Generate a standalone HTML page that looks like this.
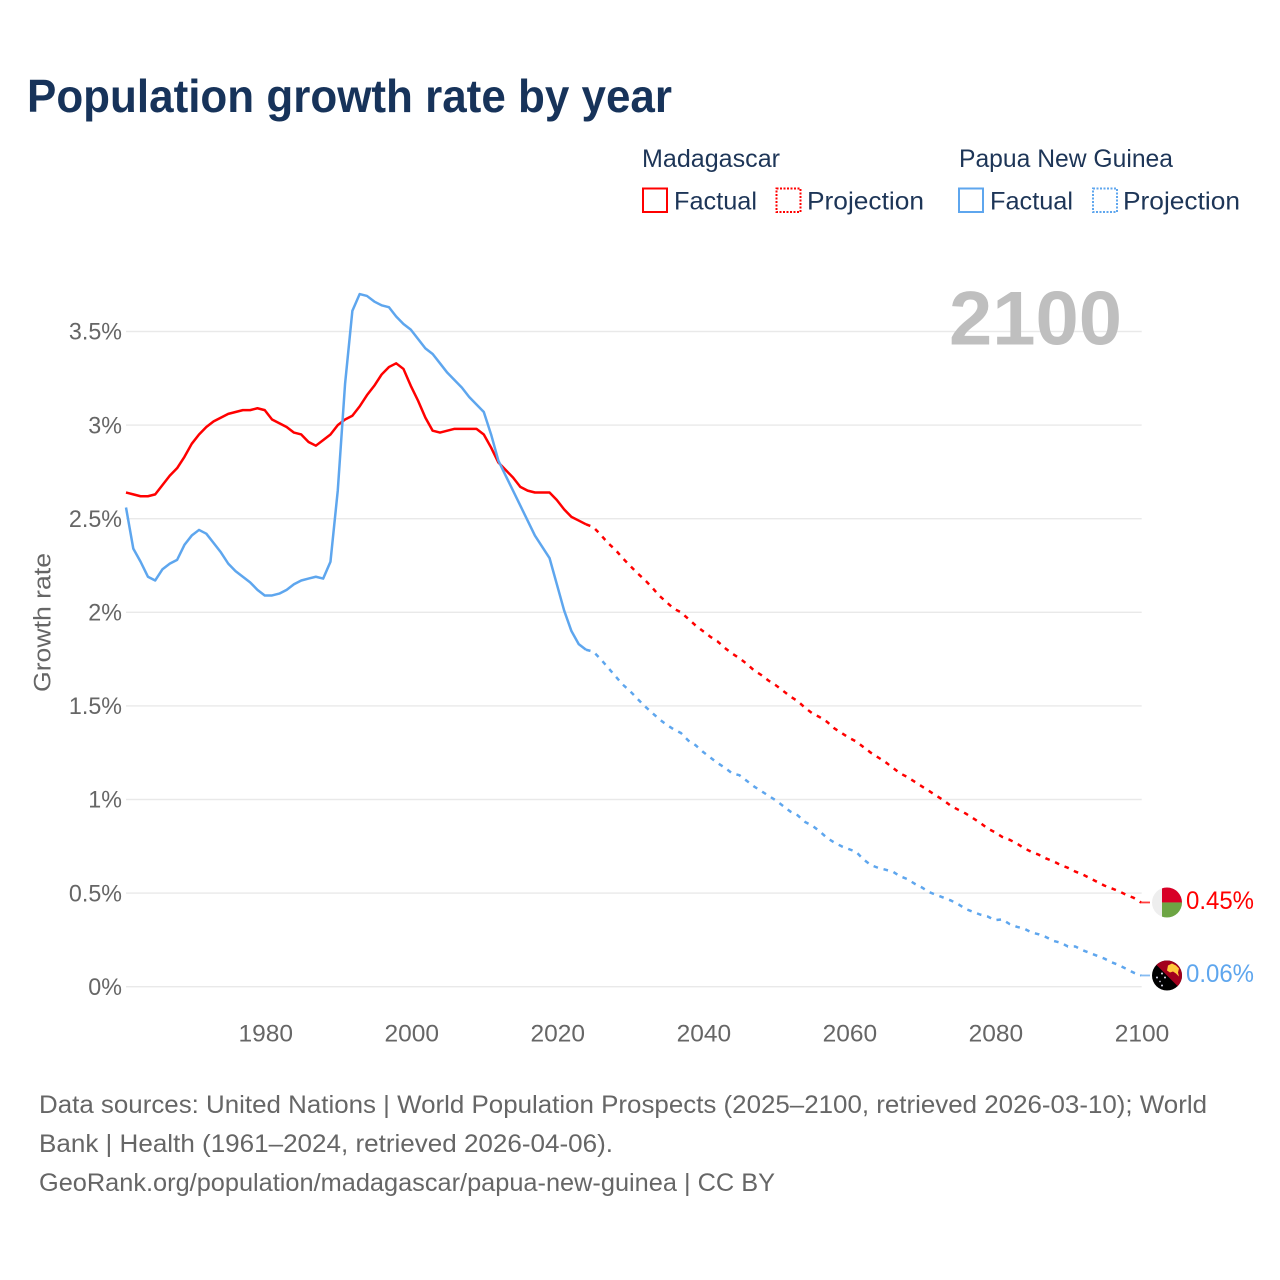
<!DOCTYPE html>
<html lang="en">
<head>
<meta charset="utf-8">
<title>Population growth rate by year</title>
<style>
html,body{margin:0;padding:0;background:#fff;width:1280px;height:1280px;overflow:hidden}
svg{display:block;font-family:"Liberation Sans",sans-serif}
</style>
</head>
<body>
<svg id="chart" xmlns="http://www.w3.org/2000/svg" width="1280" height="1280" viewBox="0 0 1280 1280">
  <rect width="1280" height="1280" fill="#fff"/>
  <text x="27" y="112" font-size="46" font-weight="700" fill="#17335a" textLength="645" lengthAdjust="spacingAndGlyphs">Population growth rate by year</text>

  <g font-size="25" fill="#1d3557">
    <text x="642" y="167" textLength="138" lengthAdjust="spacingAndGlyphs">Madagascar</text>
    <text x="959" y="167" textLength="214" lengthAdjust="spacingAndGlyphs">Papua New Guinea</text>
    <rect x="643" y="188.5" width="24" height="23.5" fill="none" stroke="#ff0000" stroke-width="2"/>
    <text x="674" y="209.5" textLength="83" lengthAdjust="spacingAndGlyphs">Factual</text>
    <rect x="776.5" y="188.5" width="24" height="23.5" fill="none" stroke="#ff0000" stroke-width="2" stroke-dasharray="2 1.5"/>
    <text x="807" y="209.5" textLength="117" lengthAdjust="spacingAndGlyphs">Projection</text>
    <rect x="959" y="188.5" width="24" height="23.5" fill="none" stroke="#5ea6ee" stroke-width="2"/>
    <text x="990" y="209.5" textLength="83" lengthAdjust="spacingAndGlyphs">Factual</text>
    <rect x="1093" y="188.5" width="24" height="23.5" fill="none" stroke="#5ea6ee" stroke-width="2" stroke-dasharray="2 1.5"/>
    <text x="1123" y="209.5" textLength="117" lengthAdjust="spacingAndGlyphs">Projection</text>
  </g>

  <g id="grid"></g>
  <g id="yticks" font-size="24.5" fill="#666"></g>
  <g id="xticks" font-size="24.5" fill="#666"></g>

  <text transform="translate(50.5 622.5) rotate(-90)" text-anchor="middle" font-size="24.5" fill="#666" textLength="139" lengthAdjust="spacingAndGlyphs">Growth rate</text>
  <text x="949" y="344.5" font-size="76" font-weight="700" fill="#bfbfbf" textLength="173" lengthAdjust="spacingAndGlyphs">2100</text>

  <g id="series"></g>

  <defs>
    <clipPath id="flag-clip"><circle cx="0" cy="0" r="15"/></clipPath>
  </defs>
  <g id="flag-mg">
    <g clip-path="url(#flag-clip)">
      <rect x="-15" y="-15" width="30" height="30" fill="#eeeeee"/>
      <rect x="-5" y="-15" width="20" height="15" fill="#d80027"/>
      <rect x="-5" y="0" width="20" height="15" fill="#6da544"/>
    </g>
  </g>
  <g id="flag-pg">
    <g clip-path="url(#flag-clip)">
      <rect x="-15" y="-15" width="30" height="30" fill="#000"/>
      <polygon points="-15,-15 15,-15 15,15" fill="#a2001d"/>
      <polygon points="0,-5 1,-10 5,-12 9,-10 12,-7 11,-3 12,1 9,-2 6,-4 3,-3" fill="#ffc93c"/>
      <circle cx="-5" cy="-2" r="1" fill="#dde"/>
      <circle cx="-10" cy="2" r="1" fill="#dde"/>
      <circle cx="-2" cy="2" r="1" fill="#dde"/>
      <circle cx="-7" cy="6" r="0.8" fill="#dde"/>
      <circle cx="-5" cy="10" r="1" fill="#dde"/>
    </g>
  </g>
  <text id="end-mg" x="1186" font-size="25" fill="#ff0000" textLength="68" lengthAdjust="spacingAndGlyphs"></text>
  <text id="end-pg" x="1186" font-size="25" fill="#5ea6ee" textLength="68" lengthAdjust="spacingAndGlyphs"></text>

  <g font-size="25" fill="#666">
    <text x="39" y="1113" textLength="1168" lengthAdjust="spacingAndGlyphs">Data sources: United Nations | World Population Prospects (2025–2100, retrieved 2026-03-10); World</text>
    <text x="39" y="1152" textLength="574" lengthAdjust="spacingAndGlyphs">Bank | Health (1961–2024, retrieved 2026-04-06).</text>
    <text x="39" y="1191" textLength="736" lengthAdjust="spacingAndGlyphs">GeoRank.org/population/madagascar/papua-new-guinea | CC BY</text>
  </g>
</svg>

<script>
const yTickValues = [0, 0.5, 1, 1.5, 2, 2.5, 3, 3.5];
const yTickLabels = ['0%', '0.5%', '1%', '1.5%', '2%', '2.5%', '3%', '3.5%'];
const xTickYears = [1980, 2000, 2020, 2040, 2060, 2080, 2100];
const factualStartYear = 1961;
const projectionStartYear = 2024;

const madagascarFactual = [
  2.64, 2.63, 2.62, 2.62, 2.63, 2.68, 2.73, 2.77, 2.83, 2.90,
  2.95, 2.99, 3.02, 3.04, 3.06, 3.07, 3.08, 3.08, 3.09, 3.08,
  3.03, 3.01, 2.99, 2.96, 2.95, 2.91, 2.89, 2.92, 2.95, 3.00,
  3.03, 3.05, 3.10, 3.16, 3.21, 3.27, 3.31, 3.33, 3.30, 3.21,
  3.13, 3.04, 2.97, 2.96, 2.97, 2.98, 2.98, 2.98, 2.98, 2.95,
  2.88, 2.80, 2.76, 2.72, 2.67, 2.65, 2.64, 2.64, 2.64, 2.60,
  2.55, 2.51, 2.49, 2.47
];
const papuaFactual = [
  2.56, 2.34, 2.27, 2.19, 2.17, 2.23, 2.26, 2.28, 2.36, 2.41,
  2.44, 2.42, 2.37, 2.32, 2.26, 2.22, 2.19, 2.16, 2.12, 2.09,
  2.09, 2.10, 2.12, 2.15, 2.17, 2.18, 2.19, 2.18, 2.27, 2.65,
  3.22, 3.61, 3.70, 3.69, 3.66, 3.64, 3.63, 3.58, 3.54, 3.51,
  3.46, 3.41, 3.38, 3.33, 3.28, 3.24, 3.20, 3.15, 3.11, 3.07,
  2.95, 2.81, 2.73, 2.65, 2.57, 2.49, 2.41, 2.35, 2.29, 2.15,
  2.01, 1.90, 1.83, 1.80
];
const madagascarProjection = [
  2.47, 2.455, 2.415, 2.37, 2.335, 2.29, 2.25, 2.21, 2.175, 2.135,
  2.09, 2.055, 2.02, 2.00, 1.965, 1.93, 1.90, 1.87, 1.845, 1.81,
  1.78, 1.755, 1.725, 1.69, 1.665, 1.635, 1.61, 1.58, 1.55, 1.525,
  1.49, 1.46, 1.44, 1.415, 1.38, 1.355, 1.33, 1.31, 1.28, 1.25,
  1.225, 1.20, 1.17, 1.14, 1.12, 1.095, 1.07, 1.045, 1.02, 0.995,
  0.965, 0.945, 0.925, 0.90, 0.875, 0.845, 0.825, 0.80, 0.785, 0.765,
  0.74, 0.72, 0.705, 0.685, 0.67, 0.65, 0.635, 0.615, 0.60, 0.58,
  0.56, 0.54, 0.525, 0.51, 0.49, 0.475, 0.45
];
const papuaProjection = [
  1.80, 1.79, 1.75, 1.705, 1.66, 1.615, 1.58, 1.54, 1.50, 1.465,
  1.43, 1.40, 1.375, 1.355, 1.315, 1.29, 1.255, 1.225, 1.195, 1.17,
  1.14, 1.13, 1.10, 1.07, 1.045, 1.02, 0.995, 0.965, 0.935, 0.915,
  0.88, 0.86, 0.83, 0.795, 0.77, 0.75, 0.735, 0.72, 0.68, 0.65,
  0.635, 0.625, 0.615, 0.59, 0.575, 0.55, 0.53, 0.505, 0.49, 0.475,
  0.46, 0.44, 0.415, 0.40, 0.385, 0.375, 0.355, 0.36, 0.335, 0.32,
  0.31, 0.29, 0.28, 0.265, 0.245, 0.235, 0.215, 0.215, 0.195, 0.18,
  0.165, 0.15, 0.13, 0.115, 0.095, 0.075, 0.06
];

const SVGNS = 'http://www.w3.org/2000/svg';
function xScale(year) { return 126 + 7.302 * (year - 1961); }
function yScale(pct) { return 986.7 - 187.2 * pct; }
function linePoints(values, startYear) {
  return values.map(function (v, i) {
    return xScale(startYear + i).toFixed(2) + ',' + yScale(v).toFixed(2);
  }).join(' ');
}
function make(tag, attrs, parent) {
  const el = document.createElementNS(SVGNS, tag);
  Object.keys(attrs).forEach(function (k) { el.setAttribute(k, attrs[k]); });
  parent.appendChild(el);
  return el;
}

const gridGroup = document.getElementById('grid');
const yTickGroup = document.getElementById('yticks');
yTickValues.forEach(function (v, i) {
  const line = make('line', { x1: 126, x2: 1141.7, y1: yScale(v), y2: yScale(v), stroke: '#e9e9e9', 'stroke-width': 1.4 }, gridGroup);
  
  
  const label = make('text', { x: 122, y: yScale(v) + 8.2, 'text-anchor': 'end', lengthAdjust: 'spacingAndGlyphs' }, yTickGroup);
  
  
  label.textContent = yTickLabels[i];
  label.setAttribute('textLength', (label.getComputedTextLength() * 0.95).toFixed(1));
});

const xTickGroup = document.getElementById('xticks');
xTickYears.forEach(function (year) {
  const label = make('text', { x: xScale(year) + 1, y: 1041.5, 'text-anchor': 'middle' }, xTickGroup);
  
  
  label.textContent = String(year);
});

const RED = '#ff0000';
const BLUE = '#5ea6ee';
const seriesGroup = document.getElementById('series');

function drawLine(values, startYear, color, dashed) {
  const attrs = { points: linePoints(values, startYear), fill: 'none', stroke: color, 'stroke-width': 2.5, 'stroke-linejoin': 'round' };
  if (dashed) { attrs['stroke-dasharray'] = '4.6 5.8'; }
  return make('polyline', attrs, seriesGroup);
}

const mgF = drawLine(madagascarFactual, factualStartYear, RED, false);


const mgP = drawLine(madagascarProjection, projectionStartYear, RED, true);


const pgF = drawLine(papuaFactual, factualStartYear, BLUE, false);


const pgP = drawLine(papuaProjection, projectionStartYear, BLUE, true);



const lastMg = madagascarProjection[madagascarProjection.length - 1];
const lastPg = papuaProjection[papuaProjection.length - 1];
const endX = xScale(2100);

const leadMg = make('line', { x1: endX - 1, x2: 1150, y1: yScale(lastMg), y2: yScale(lastMg), stroke: RED, 'stroke-width': 1.8, opacity: 0.75 }, seriesGroup);


const leadPg = make('line', { x1: endX - 1, x2: 1150, y1: yScale(lastPg), y2: yScale(lastPg), stroke: BLUE, 'stroke-width': 1.8, opacity: 0.75 }, seriesGroup);



document.getElementById('flag-mg').setAttribute('transform', 'translate(1167 ' + yScale(lastMg) + ')');
document.getElementById('flag-pg').setAttribute('transform', 'translate(1167 ' + yScale(lastPg) + ')');
const endMg = document.getElementById('end-mg');
endMg.setAttribute('y', yScale(lastMg) + 6.5);
endMg.textContent = lastMg.toFixed(2) + '%';
const endPg = document.getElementById('end-pg');
endPg.setAttribute('y', yScale(lastPg) + 6.5);
endPg.textContent = lastPg.toFixed(2) + '%';
</script>
</body>
</html>
